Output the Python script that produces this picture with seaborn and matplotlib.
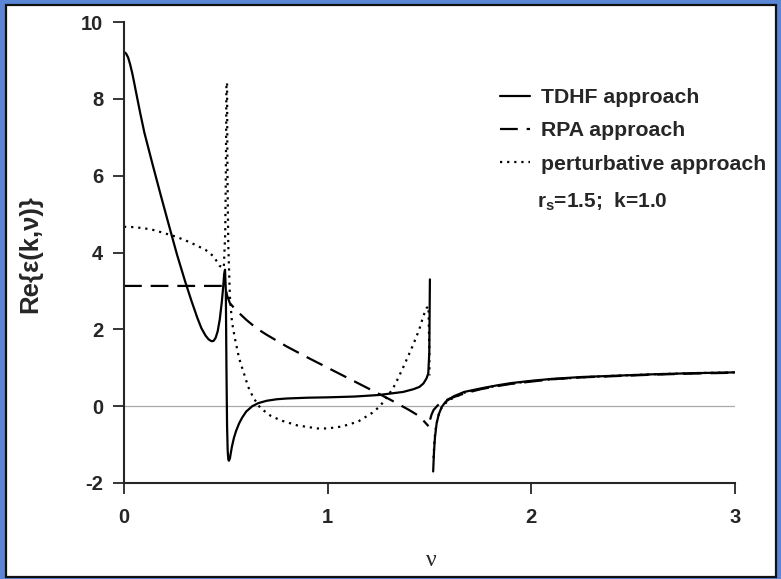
import numpy as np
import pandas as pd
import matplotlib
matplotlib.use("Agg")
import matplotlib.pyplot as plt
from matplotlib.lines import Line2D
from matplotlib.patches import Rectangle
import seaborn as sns

# --- data (nu, Re eps) ---
tdhf_1_x = [0.0, 0.01, 0.02, 0.03, 0.04, 0.05, 0.06, 0.08, 0.10, 0.14, 0.18, 0.22, 0.26,
            0.30, 0.33, 0.36, 0.38, 0.40, 0.415, 0.43, 0.44, 0.45, 0.46, 0.47, 0.48,
            0.487, 0.492, 0.496, 0.50, 0.503, 0.506, 0.509, 0.512, 0.515, 0.52, 0.525,
            0.53, 0.54, 0.55, 0.565, 0.58, 0.60, 0.63, 0.66, 0.70, 0.75, 0.80, 0.90,
            1.00, 1.13, 1.25, 1.37, 1.42, 1.45, 1.47, 1.485, 1.494, 1.499, 1.502]
tdhf_1_y = [9.22, 9.18, 9.08, 8.9, 8.68, 8.42, 8.15, 7.62, 7.12, 6.3, 5.5, 4.72, 3.95,
            3.25, 2.76, 2.3, 2.03, 1.84, 1.74, 1.69, 1.7, 1.78, 1.95, 2.25, 2.7,
            3.1, 3.45, 3.55, 3.0, 1.0, -0.5, -1.15, -1.38, -1.42, -1.36, -1.2,
            -1.05, -0.82, -0.65, -0.45, -0.3, -0.14, 0.0, 0.08, 0.14, 0.18, 0.2, 0.22,
            0.23, 0.25, 0.29, 0.37, 0.44, 0.5, 0.59, 0.72, 0.85, 1.4, 3.3]
tdhf_2_x = [1.518, 1.522, 1.527, 1.535, 1.545, 1.56, 1.58, 1.62, 1.67, 1.75, 1.83, 1.9,
            2.0, 2.1, 2.25, 2.4, 2.6, 2.8, 3.0]
tdhf_2_y = [-1.7, -1.2, -0.8, -0.45, -0.22, -0.02, 0.12, 0.26, 0.37, 0.46, 0.54, 0.6,
            0.66, 0.71, 0.76, 0.79, 0.83, 0.86, 0.88]

rpa_1_x = [0.0, 0.25, 0.49, 0.50, 0.505, 0.52, 0.55, 0.60, 0.65, 0.70, 0.80, 0.90, 1.00,
           1.10, 1.20, 1.30, 1.40, 1.45, 1.495]
rpa_1_y = [3.13, 3.13, 3.13, 3.1, 2.9, 2.68, 2.5, 2.25, 2.03, 1.86, 1.55, 1.27, 1.0,
           0.73, 0.46, 0.19, -0.1, -0.26, -0.52]
rpa_2_x = [1.503, 1.51, 1.52, 1.54, 1.56, 1.60, 1.67, 1.75, 1.83, 1.9, 2.0, 2.1, 2.25,
           2.4, 2.6, 2.8, 3.0]
rpa_2_y = [-0.35, -0.22, -0.1, 0.02, 0.1, 0.2, 0.33, 0.44, 0.52, 0.58, 0.64, 0.7, 0.75,
           0.78, 0.82, 0.85, 0.87]

pert_1_x = [0.0, 0.05, 0.10, 0.15, 0.20, 0.25, 0.30, 0.35, 0.40, 0.44, 0.47, 0.49,
            0.497, 0.50, 0.503]
pert_1_y = [4.67, 4.66, 4.63, 4.58, 4.5, 4.42, 4.32, 4.2, 4.07, 3.9, 3.65, 3.6,
            4.5, 6.0, 8.4]
pert_2_x = [0.506, 0.508, 0.512, 0.52, 0.53, 0.545, 0.565, 0.586, 0.61, 0.635, 0.67,
            0.72, 0.77, 0.85, 0.95, 1.0, 1.07, 1.15, 1.22, 1.257, 1.30, 1.33, 1.37,
            1.42, 1.45, 1.47, 1.485, 1.495, 1.499, 1.50]
pert_2_y = [8.4, 6.0, 4.2, 2.85, 2.2, 1.75, 1.25, 0.9, 0.5, 0.22, -0.05,
            -0.25, -0.37, -0.5, -0.58, -0.58, -0.53, -0.4, -0.17, 0.0, 0.3, 0.55, 1.0,
            1.6, 2.0, 2.35, 2.55, 2.6, 1.5, 0.8]
pert_3_x = [1.52, 1.524, 1.53, 1.54, 1.555, 1.57, 1.60, 1.67, 1.75, 1.83, 1.9, 2.0,
            2.1, 2.25, 2.4, 2.6, 2.8, 3.0]
pert_3_y = [-1.35, -0.9, -0.6, -0.3, -0.08, 0.04, 0.17, 0.35, 0.45, 0.53, 0.59, 0.65,
            0.7, 0.75, 0.79, 0.83, 0.86, 0.88]

methods = ["TDHF approach", "RPA approach", "perturbative approach"]
x_ticks = [0, 1, 2, 3]
y_ticks = [-2, 0, 2, 4, 6, 8, 10]

segments = [
    ("TDHF approach", "t1", tdhf_1_x, tdhf_1_y),
    ("TDHF approach", "t2", tdhf_2_x, tdhf_2_y),
    ("RPA approach", "r1", rpa_1_x, rpa_1_y),
    ("RPA approach", "r2", rpa_2_x, rpa_2_y),
    ("perturbative approach", "p1", pert_1_x, pert_1_y),
    ("perturbative approach", "p2", pert_2_x, pert_2_y),
    ("perturbative approach", "p3", pert_3_x, pert_3_y),
]
df = pd.concat([pd.DataFrame({"nu": xs, "eps": ys, "method": m, "seg": s})
                for m, s, xs, ys in segments], ignore_index=True)

sns.set_style("ticks")
plt.rcParams["font.family"] = ["Liberation Sans", "DejaVu Sans"]
plt.rcParams["axes.unicode_minus"] = False
plt.rcParams["mathtext.fontset"] = "custom"
plt.rcParams["mathtext.rm"] = "Liberation Sans:bold"
plt.rcParams["mathtext.bf"] = "Liberation Sans:bold"

W, H = 781, 579
fig = plt.figure(figsize=(W / 100, H / 100), dpi=100)
fig.patch.set_facecolor("#5b86d6")
fig.add_artist(Rectangle((6 / W, 2 / H), 770 / W, 572 / H, transform=fig.transFigure,
                         facecolor="white", edgecolor="#111111", lw=1.6, zorder=-5))

ax = fig.add_axes([124 / W, (H - 483) / H, (735 - 124) / W, (483 - 22) / H])
ax.patch.set_visible(False)

line_dashes = {"TDHF approach": "", "RPA approach": (8, 4), "perturbative approach": (1, 2.2)}
ax.axhline(0, color="#aaaaaa", lw=0.9, zorder=1)
sns.lineplot(data=df, x="nu", y="eps", style="method", units="seg", estimator=None,
             sort=False, dashes=line_dashes, color="black", lw=1.6, legend=False, ax=ax)

ax.set_xlim(0, 3)
ax.set_ylim(-2, 10)
ax.set_xticks(x_ticks)
ax.set_yticks(y_ticks)
ax.tick_params(direction="out", length=8, width=1.3, labelsize=14.5)
ax.tick_params(axis="x", pad=10)
ax.tick_params(axis="y", pad=7)
for lab in ax.get_xticklabels() + ax.get_yticklabels():
    lab.set_fontweight("bold")
sns.despine(ax=ax)
for sp in ["left", "bottom"]:
    ax.spines[sp].set_linewidth(1.5)

ax.set_xlabel("")
ax.set_ylabel("")
fig.text(30 / W, 1 - 254 / H, "Re{ε(k,ν)}", rotation=90, fontsize=18.5, fontweight="bold",
         ha="center", va="center")
fig.text(431 / W, 1 - 560 / H, "ν", fontsize=17, family=["Liberation Serif", "DejaVu Serif"],
         ha="center", va="center")

handles = [Line2D([], [], color="black", lw=1.6, linestyle="-"),
           Line2D([], [], color="black", lw=1.6, dashes=line_dashes["RPA approach"]),
           Line2D([], [], color="black", lw=1.6, dashes=line_dashes["perturbative approach"])]
leg = ax.legend(handles, methods, loc="upper left", bbox_to_anchor=(500 / W, 1 - 88 / H),
                bbox_transform=fig.transFigure, frameon=False, borderpad=0, borderaxespad=0,
                handlelength=1.4, handletextpad=0.55, labelspacing=0.68,
                prop={"size": 15.3, "weight": "bold"})

fig.text(537 / W, 1 - 202 / H, r"$\mathbf{r_s}$=1.5;  k=1.0", fontsize=15,
         fontweight="bold", ha="left", va="center")

fig.savefig("out.png", dpi=100, facecolor=fig.get_facecolor())
